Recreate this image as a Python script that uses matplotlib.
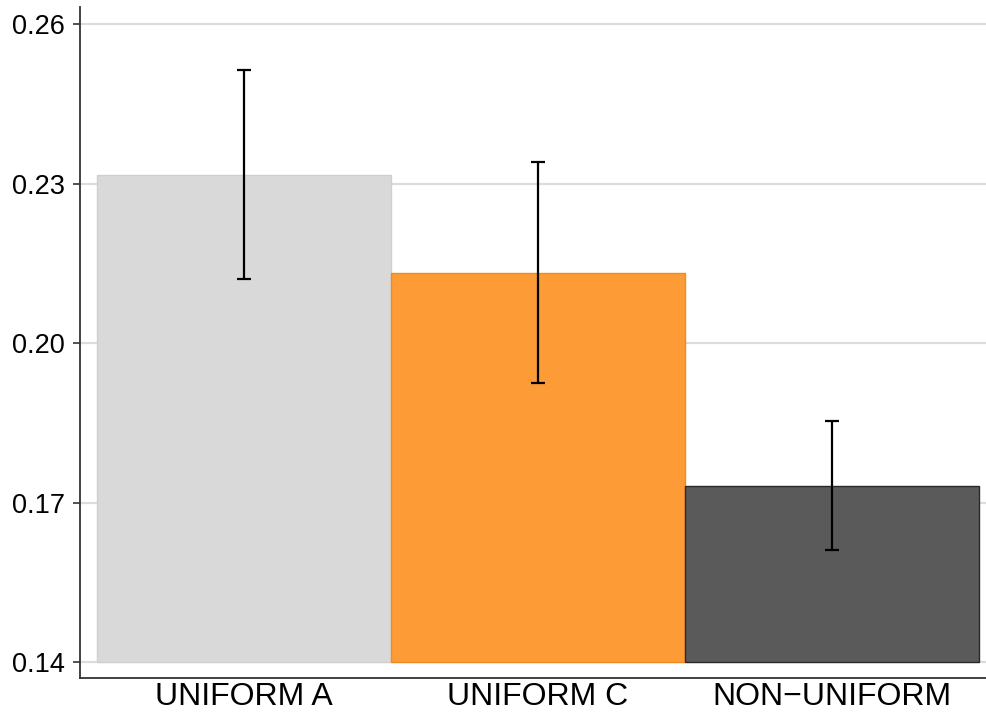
import numpy as np
import matplotlib.pyplot as plt

plt.rcParams['font.family'] = ['Liberation Sans', 'DejaVu Sans']

groups = ['UNIFORM A', 'UNIFORM C', 'NON\u2212UNIFORM']
means = [0.2317, 0.2132, 0.1732]
err_low = [0.2121, 0.1925, 0.1611]
err_high = [0.2513, 0.2341, 0.1853]
colors = ['#d9d9d9', '#fd9b36', '#5a5a5a']
edges = ['#cfcfcf', '#f08a20', '#2a2a2a']
yticks = [0.14, 0.17, 0.20, 0.23, 0.26]

fig = plt.figure(figsize=(9.86, 7.17), dpi=100)
ax = fig.add_axes([0.0811, 0.0544, 0.9189, 0.9356])

x = np.arange(len(groups))
base = 0.14
ax.bar(x, np.array(means) - base, bottom=base, width=1.0, color=colors,
       edgecolor=edges, linewidth=1.0, zorder=2)

yerr = [np.array(means) - np.array(err_low), np.array(err_high) - np.array(means)]
ax.errorbar(x, means, yerr=yerr, fmt='none', ecolor='black', elinewidth=1.6,
            capsize=5, capthick=1.6, zorder=3)

ax.set_ylim(0.137, 0.2632)
ax.set_xlim(-0.558, 2.524)
ax.set_yticks(yticks)
ax.set_yticklabels(['%.2f' % v for v in yticks], fontsize=19.5)
ax.set_xticks(x)
ax.set_xticklabels(groups, fontsize=23)
ax.tick_params(axis='x', length=0, pad=3)
ax.tick_params(axis='y', length=5, width=1.2, color='#333333', pad=6)
ax.yaxis.grid(True, color='#dcdcdc', linewidth=1.6, zorder=0)
ax.set_axisbelow(True)

for side in ['top', 'right']:
    ax.spines[side].set_visible(False)
for side in ['left', 'bottom']:
    ax.spines[side].set_color('#333333')
    ax.spines[side].set_linewidth(1.3)

fig.savefig('out.png', dpi=100)
